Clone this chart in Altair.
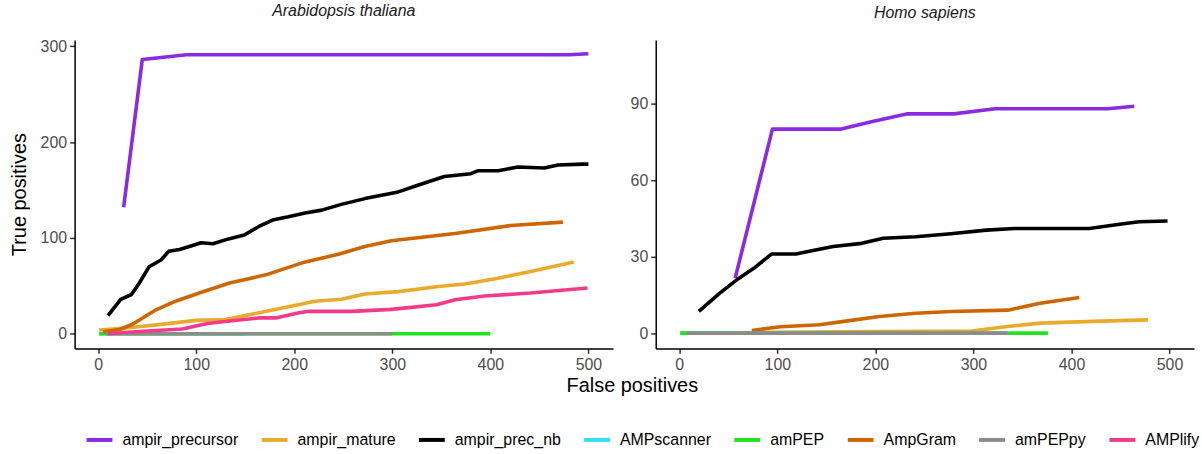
import altair as alt
import pandas as pd

methods = ["ampir_precursor", "ampir_mature", "ampir_prec_nb", "AMPscanner",
           "amPEP", "AmpGram", "amPEPpy", "AMPlify"]
colors = ["#8A2BE2", "#EAAA2D", "#000000", "#33E0F5",
          "#1FE31F", "#CD6600", "#8C8C8C", "#F23A8A"]

panels = ["Arabidopsis thaliana", "Homo sapiens"]
x_ticks = [0, 100, 200, 300, 400, 500]

# ---- Arabidopsis thaliana ----
at_prec_fp = [26, 45, 62, 90, 200, 300, 400, 480, 500]
at_prec_tp = [132, 286, 288, 291, 291, 291, 291, 291, 292]
at_mat_fp = [1, 28, 62, 100, 130, 164, 198, 221, 248, 272, 306, 347, 374, 408, 441, 485]
at_mat_tp = [4, 6, 9.6, 14, 15, 22, 29, 34, 36, 41.5, 44, 49.4, 52, 58, 65, 75]
at_nb_fp = [10, 23, 34, 42, 52, 64, 72, 83, 93, 105, 117, 133, 149, 164, 179, 194, 211, 228,
            248, 272, 306, 326, 353, 380, 387, 408, 428, 455, 469, 494, 500]
at_nb_tp = [19, 36, 41, 53, 70, 77, 86, 88, 91, 95, 94, 99, 103, 112, 119, 122, 126, 129,
            135, 141, 148, 155, 164, 167, 170, 170, 174, 173, 176, 177, 177]
at_scan_fp = [1, 150]
at_scan_tp = [0, 0]
at_pep_fp = [1, 400]
at_pep_tp = [0, 0]
at_gram_fp = [5, 22, 35, 59, 79, 103, 134, 171, 208, 245, 272, 299, 364, 421, 474]
at_gram_tp = [2, 4.5, 10, 25, 34, 42.5, 53, 61.5, 74, 83, 91, 97, 104.7, 113, 116.5]
at_pepy_fp = [8, 300]
at_pepy_tp = [0, 0]
at_lify_fp = [10, 42, 86, 103, 113, 164, 181, 205, 215, 259, 299, 345, 364, 394, 441, 499]
at_lify_tp = [0, 2.5, 5, 9, 11, 16.6, 16.6, 22, 23.5, 23.4, 25.5, 30.4, 35.6, 39.5, 42.5, 47.7]

# ---- Homo sapiens ----
hs_prec_fp = [57, 95, 164, 197, 233, 280, 322, 437, 464]
hs_prec_tp = [21.5, 80, 80, 83, 86, 86, 88, 88, 89]
hs_mat_fp = [8, 100, 200, 298, 335, 368, 422, 478]
hs_mat_tp = [0, 0.3, 0.6, 0.8, 2.6, 3.9, 4.6, 5.2]
hs_nb_fp = [20, 41, 59, 76, 94, 119, 139, 157, 186, 208, 241, 277, 313, 342, 368, 418, 451, 469, 498]
hs_nb_tp = [8.5, 15.6, 21, 25.4, 31, 31, 32.6, 34, 35.2, 37.2, 37.8, 39, 40.4, 41, 41, 41, 42.8, 43.7, 44]
hs_scan_fp = [1, 150]
hs_scan_tp = [0, 0]
hs_pep_fp = [1, 376]
hs_pep_tp = [0, 0]
hs_gram_fp = [74, 103, 143, 168, 204, 241, 277, 335, 368, 408]
hs_gram_tp = [1, 2.5, 3.3, 4.6, 6.5, 7.8, 8.5, 9, 11.7, 14]
hs_pepy_fp = [8, 335]
hs_pepy_tp = [0, 0]

series = {
    panels[0]: [
        (methods[0], at_prec_fp, at_prec_tp), (methods[1], at_mat_fp, at_mat_tp),
        (methods[2], at_nb_fp, at_nb_tp), (methods[3], at_scan_fp, at_scan_tp),
        (methods[4], at_pep_fp, at_pep_tp), (methods[5], at_gram_fp, at_gram_tp),
        (methods[6], at_pepy_fp, at_pepy_tp), (methods[7], at_lify_fp, at_lify_tp),
    ],
    panels[1]: [
        (methods[0], hs_prec_fp, hs_prec_tp), (methods[1], hs_mat_fp, hs_mat_tp),
        (methods[2], hs_nb_fp, hs_nb_tp), (methods[3], hs_scan_fp, hs_scan_tp),
        (methods[4], hs_pep_fp, hs_pep_tp), (methods[5], hs_gram_fp, hs_gram_tp),
        (methods[6], hs_pepy_fp, hs_pepy_tp),
    ],
}

rows = []
for p, lst in series.items():
    for m, fx, ty in lst:
        for a, b in zip(fx, ty):
            rows.append({"panel": p, "method": m, "fp": a, "tp": b})
df = pd.DataFrame(rows)

FONT = "Liberation Sans"


def panel_chart(name, ydom, yvals, ytitle, xtitle):
    if ytitle:
        y_axis = alt.Axis(values=yvals, title=ytitle, titlePadding=11)
    else:
        y_axis = alt.Axis(values=yvals, title=None)
    if xtitle:
        x_axis = alt.Axis(values=x_ticks, title=xtitle, titleX=560, titlePadding=3)
    else:
        x_axis = alt.Axis(values=x_ticks, title=None)
    return alt.Chart(df[df.panel == name]).mark_line(strokeWidth=3.6, strokeJoin="round").encode(
        x=alt.X("fp:Q", scale=alt.Scale(domain=[-24, 525], nice=False, zero=False), axis=x_axis),
        y=alt.Y("tp:Q", scale=alt.Scale(domain=ydom, nice=False, zero=False), axis=y_axis),
        color=alt.Color("method:N", scale=alt.Scale(domain=methods, range=colors),
                        legend=alt.Legend(title=None, orient="none", direction="horizontal",
                                          columns=8, legendX=10, legendY=387,
                                          symbolType="stroke", symbolSize=676,
                                          symbolStrokeWidth=4, labelFontSize=16,
                                          labelFont=FONT, labelColor="#000000",
                                          labelOffset=8, columnPadding=15)),
    ).properties(width=541, height=310,
                 title=alt.TitleParams(name, fontStyle="italic", fontSize=16, font=FONT,
                                       fontWeight="normal", color="#1A1A1A", offset=19))


left = panel_chart(panels[0], [-15.2, 306.5], [0, 100, 200, 300], "True positives", "False positives")
right = panel_chart(panels[1], [-6, 115], [0, 30, 60, 90], None, None)

chart = alt.hconcat(left, right, spacing=43, bounds="flush").properties(
    padding={"left": 9, "top": 2, "right": 2, "bottom": 2},
).configure_view(stroke=None).configure_axis(
    grid=False, domainColor="#000000", domainWidth=1.5, tickColor="#333333", tickWidth=1.5,
    tickSize=5, labelColor="#4D4D4D", labelFontSize=16, labelFont=FONT, labelPadding=3,
    titleFont=FONT, titleFontSize=20, titleFontWeight="normal", titleColor="#000000",
).configure_title(anchor="middle")

chart.save("out.html", embed_options={"renderer": "svg", "actions": False})
